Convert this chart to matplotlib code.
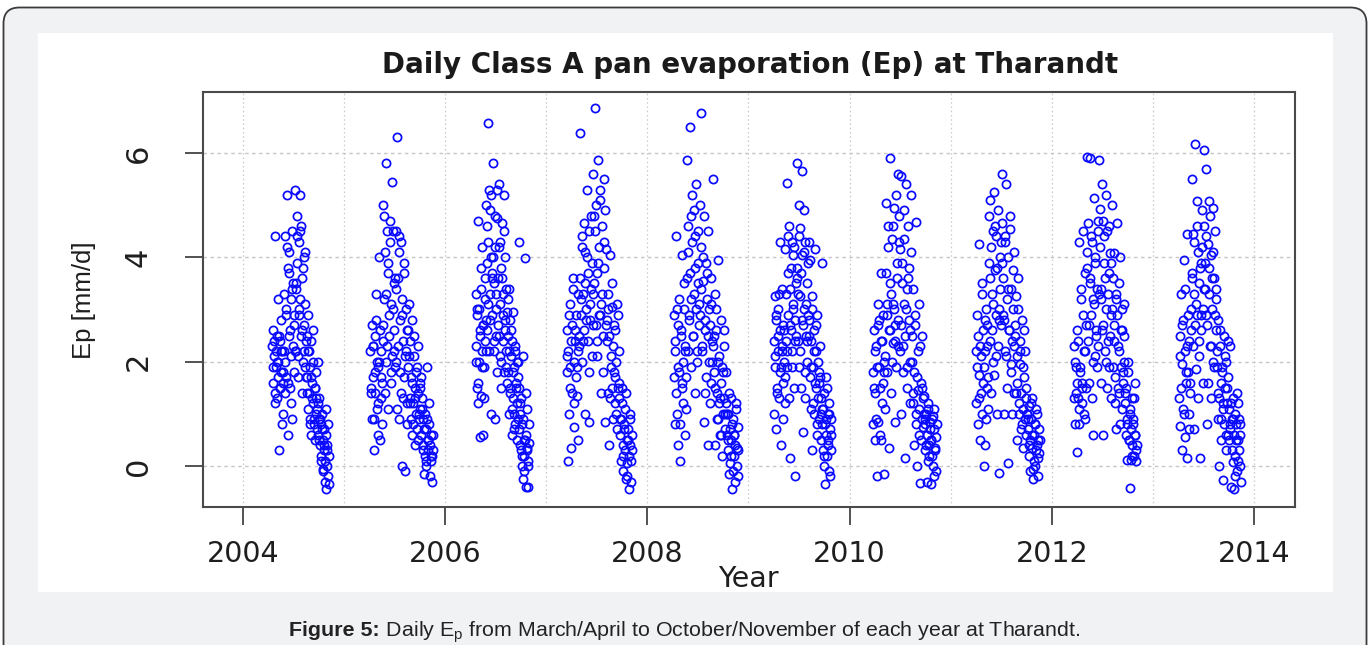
import numpy as np
import matplotlib
matplotlib.use("Agg")
import matplotlib.pyplot as plt
from matplotlib import font_manager as fm
from matplotlib.patches import FancyBboxPatch, Rectangle
from matplotlib.transforms import IdentityTransform

# ---------------- data ----------------
YEARS = [2004, 2005, 2006, 2007, 2008, 2009, 2010, 2011, 2012, 2013]
# first / last plotted day of each season, as fraction of the year
SEASON_START = [0.29, 0.26, 0.30, 0.20, 0.26, 0.25, 0.23, 0.25, 0.22, 0.26]
SEASON_END = [0.85, 0.88, 0.83, 0.85, 0.90, 0.82, 0.86, 0.88, 0.84, 0.87]

EP_2004 = [2.3, 1.6, 1.9, 2.6, 2.1, 2.4, 1.4, 4.4, 1.2, 2.2, 1.9, 2.0, 2.5, 1.3, 1.7, 3.2, 2.0, 2.5, 0.3, 1.5, 1.5, 2.4, 2.8, 2.2, 1.8, 2.2, 0.8, 1.0, 1.6, 1.8,
           3.3, 2.2, 2.0, 4.4, 1.4, 3.0, 2.9, 1.7, 4.2, 5.2, 3.8, 1.6, 0.6, 2.5, 3.7, 4.1, 1.5, 2.6, 2.1, 3.2, 1.2, 0.9, 4.5, 3.4, 2.3, 3.5, 2.9, 1.8, 2.7, 2.2,
           5.3, 3.5, 3.4, 2.2, 4.8, 4.4, 3.9, 1.7, 2.1, 4.3, 2.9, 3.0, 5.2, 3.2, 4.5, 2.5, 4.6, 2.6, 1.4, 3.6, 3.8, 2.0, 4.0, 2.2, 2.7, 3.1, 4.1, 1.9, 2.4, 1.7,
           2.5, 1.7, 1.4, 2.9, 1.1, 2.2, 2.2, 1.4, 0.9, 0.8, 1.9, 1.7, 2.4, 0.6, 1.3, 1.6, 1.2, 2.6, 2.0, 0.9, 0.8, 1.5, 0.5, 1.5, 1.3, 1.8, 1.0, 0.7, 1.1, 2.0,
           1.2, 0.6, 0.5, 0.9, 1.3, 0.9, 0.4, 0.2, 0.1, 0.8, 1.0, 0.7, -0.1, 0.5, -0.05, 0.3, 0.7, 0.4, -0.3, 0.1, 1.1, 0.6, -0.45, 0.3, 0.4, 0.0, 0.8, -0.2, 0.2, -0.35]
EP_2005 = [2.2, 1.4, 1.5, 2.7, 0.9, 2.3, 1.7, 2.3, 0.9, 0.3, 1.4, 1.8, 2.5, 3.3, 2.8, 1.1, 2.0, 1.2, 0.6, 1.9, 2.0, 4.0, 2.6, 0.5, 1.3, 2.2, 1.7, 0.8, 1.6, 2.4,
           5.0, 2.7, 3.2, 4.8, 1.4, 4.1, 3.3, 5.8, 2.0, 2.3, 4.5, 3.9, 1.1, 3.7, 2.5, 2.9, 4.3, 4.7, 1.6, 3.1, 1.8, 5.45, 2.1, 3.0, 4.5, 2.6, 2.2, 3.5, 1.9, 3.6,
           4.5, 2.0, 3.4, 6.3, 1.1, 2.3, 3.6, 4.1, 4.4, 0.9, 2.8, 1.8, 4.3, 1.4, 2.9, 0.0, 3.2, 1.3, 2.4, 3.7, 3.9, 1.7, -0.1, 2.1, 2.2, 3.0, 0.8, 1.2, 2.6, 2.6,
           1.9, 3.1, 2.1, 1.3, 2.4, 1.2, 0.9, 1.7, 1.6, 2.8, 0.6, 0.8, 1.2, 2.1, 2.5, 1.5, 0.4, 1.3, 1.0, 1.8, 1.9, 0.7, 2.3, 0.5, 1.4, 0.9, 1.0, 1.6, 1.1, 1.5,
           1.7, 0.6, 1.1, 1.3, 0.9, 0.3, 0.4, -0.15, 0.7, 1.0, 0.2, 0.0, 0.7, 0.1, 0.9, 1.9, 0.5, 0.5, 0.3, 0.8, 1.2, -0.2, 0.4, 0.2, 0.1, 0.6, -0.3, 0.2, 0.3, 0.6]
EP_2006 = [2.3, 3.3, 2.0, 1.5, 2.9, 3.0, 4.7, 1.2, 1.6, 2.0, 3.0, 2.5, 0.55, 2.6, 3.8, 1.35, 3.4, 1.9, 2.2, 4.2, 2.7, 0.6, 2.7, 1.3, 1.9, 3.6, 3.2, 2.4, 2.8, 2.2,
           5.0, 3.9, 4.6, 2.6, 4.3, 3.1, 6.57, 2.2, 5.3, 4.9, 3.3, 2.8, 1.0, 5.2, 4.0, 3.7, 2.9, 3.6, 5.8, 4.0, 2.4, 2.2, 3.5, 4.8, 0.9, 4.2, 3.3, 3.0, 2.5, 1.8,
           5.3, 4.75, 2.7, 3.6, 2.5, 4.2, 5.4, 4.3, 3.1, 2.1, 3.8, 2.0, 1.5, 4.65, 3.6, 3.3, 2.9, 2.4, 5.2, 1.8, 4.5, 4.0, 2.6, 2.8, 3.4, 2.2, 1.9, 2.95, 1.6, 3.2,
           2.5, 1.8, 2.2, 3.4, 1.0, 1.4, 2.8, 1.5, 2.6, 2.1, 0.6, 1.1, 2.4, 1.3, 1.8, 2.95, 1.0, 0.7, 1.9, 0.8, 2.3, 2.2, 1.6, 1.5, 0.5, 1.2, 2.0, 2.0, 1.7, 0.9,
           4.3, 1.5, 0.7, 0.4, 1.0, 1.2, 0.3, 1.3, 0.2, 0.0, 0.8, 0.9, -0.25, 2.1, -0.1, 0.5, 0.2, 0.5, 3.98, 0.6, 1.4, -0.4, 0.35, 0.3, 1.1, 0.1, 0.0, -0.4, 0.45, 0.8]
EP_2007 = [1.8, 2.6, 2.1, 0.1, 2.2, 2.9, 1.0, 3.1, 1.5, 1.9, 0.35, 2.4, 2.7, 1.4, 3.4, 3.6, 2.0, 1.2, 0.75, 2.4, 2.6, 1.7, 2.9, 1.9, 1.35, 3.3, 0.5, 2.2, 2.5, 2.3,
           3.6, 6.38, 3.2, 2.9, 4.2, 4.4, 2.0, 3.3, 2.4, 4.65, 2.6, 3.5, 1.0, 4.1, 2.8, 3.0, 5.3, 4.0, 2.4, 3.7, 1.8, 0.85, 4.5, 3.1, 2.8, 3.4, 4.8, 2.1, 3.9, 2.7,
           5.6, 3.3, 3.5, 4.8, 6.86, 4.5, 2.7, 5.0, 2.4, 3.7, 2.1, 3.9, 5.86, 4.2, 2.9, 2.9, 5.3, 5.1, 3.1, 1.4, 3.3, 4.6, 2.5, 1.8, 5.5, 3.8, 4.3, 0.85, 4.9, 2.7,
           4.15, 2.8, 2.4, 1.4, 3.3, 3.0, 0.4, 2.5, 1.3, 4.05, 1.9, 2.1, 3.05, 1.5, 3.5, 2.3, 0.9, 1.8, 2.7, 1.7, 2.6, 1.2, 2.0, 1.0, 3.1, 0.7, 2.9, 1.5, 2.2, 1.6,
           1.3, 0.6, 0.9, 0.9, 0.1, 1.2, 1.5, 0.4, 0.2, -0.1, 0.8, 0.7, 0.3, 1.1, 1.4, -0.25, 0.5, -0.2, 0.05, 0.7, 0.5, -0.45, 0.2, 0.9, 1.0, 0.4, 0.1, -0.3, 0.6, 0.3]
EP_2008 = [1.7, 2.9, 2.4, 0.8, 2.2, 1.4, 4.4, 1.0, 3.0, 2.7, 0.4, 1.9, 1.8, 3.2, 0.8, 0.1, 2.5, 2.6, 1.5, 4.05, 1.6, 2.0, 1.2, 3.5, 3.0, 0.6, 2.2, 2.3, 1.7, 1.1,
           5.86, 3.6, 4.1, 2.2, 4.6, 2.9, 2.8, 6.5, 3.7, 3.2, 1.9, 4.8, 5.2, 4.3, 2.5, 2.5, 4.9, 3.3, 3.8, 1.4, 4.4, 5.4, 3.0, 2.0, 2.2, 4.5, 3.9, 3.5, 2.7, 3.1,
           5.0, 2.9, 3.4, 6.76, 4.2, 2.3, 2.2, 3.55, 4.0, 0.85, 4.8, 2.8, 2.6, 1.4, 1.7, 3.9, 3.2, 3.7, 0.4, 4.5, 2.5, 2.0, 3.0, 1.2, 2.7, 1.6, 3.1, 3.6, 2.4, 2.0,
           5.5, 2.3, 2.5, 1.8, 3.3, 1.5, 0.4, 2.6, 3.0, 1.4, 0.9, 0.9, 3.95, 2.0, 2.1, 1.2, 0.6, 1.3, 2.8, 1.6, 0.6, 0.2, 1.9, 1.8, 1.0, 2.3, 2.6, 1.3, 0.7, 1.0,
           1.8, 1.2, 1.0, 0.6, 0.3, 0.5, 1.0, -0.15, 1.4, 0.7, 0.05, 0.2, 1.3, 0.5, 0.8, -0.45, 0.9, -0.1, 0.2, 0.6, 0.6, -0.3, 0.4, 1.2, 1.1, 0.0, 0.35, 0.75, 0.3, -0.2]
EP_2009 = [2.4, 1.0, 2.1, 3.25, 1.9, 2.9, 0.7, 2.8, 1.4, 1.5, 2.2, 2.5, 3.0, 1.3, 3.3, 2.6, 4.3, 1.8, 1.9, 0.4, 2.2, 2.3, 3.4, 0.9, 1.6, 2.7, 2.6, 2.0, 1.2, 1.7,
           4.15, 2.4, 3.3, 5.42, 1.9, 2.2, 3.7, 2.9, 4.4, 4.6, 1.3, 2.7, 3.4, 0.15, 3.8, 2.6, 4.3, 1.9, 2.2, 3.1, 3.0, 4.05, 1.5, 4.2, 2.8, -0.2, 2.4, 3.5, 2.5, 3.6,
           5.8, 3.8, 3.3, 2.4, 5.0, 4.4, 1.9, 4.56, 2.2, 3.25, 1.5, 3.7, 5.66, 4.05, 2.8, 2.7, 0.65, 4.1, 4.9, 3.0, 1.8, 1.3, 4.3, 3.1, 2.5, 3.5, 2.4, 2.0, 2.9, 3.9,
           4.3, 2.8, 2.5, 1.7, 3.95, 1.9, 1.1, 2.4, 3.0, 3.25, 0.3, 1.2, 1.9, 2.6, 2.2, 1.0, 4.15, 1.6, 1.5, 2.2, 2.7, 0.6, 2.9, 0.8, 1.3, 2.0, 1.8, 0.9, 1.6, 2.3,
           1.7, 1.0, 1.3, 0.5, 3.9, 0.8, 1.1, 0.3, 1.1, 1.4, 0.0, 0.2, 0.8, -0.35, 0.9, 1.7, 0.6, 1.5, 0.2, 1.0, 0.5, 0.4, 1.2, 1.0, -0.1, 0.7, -0.2, 0.9, 0.3, 0.6]
EP_2010 = [1.8, 0.8, 1.5, 2.6, 1.4, 2.2, 0.5, 2.3, 0.9, -0.2, 1.9, 2.7, 3.1, 0.85, 1.9, 2.8, 1.5, 0.6, 3.7, 0.5, 2.4, 2.4, 1.2, 1.6, 2.9, -0.15, 2.0, 1.8, 2.1, 1.1,
           3.7, 5.05, 3.1, 2.9, 1.8, 4.2, 4.6, 0.35, 2.6, 2.6, 5.9, 3.5, 3.3, 1.4, 2.0, 4.35, 2.35, 4.6, 3.1, 4.95, 3.0, 0.85, 2.7, 2.4, 5.2, 1.9, 3.9, 3.6, 2.3, 2.8,
           5.6, 4.8, 4.3, 2.2, 4.15, 2.7, 1.0, 5.55, 3.5, 3.9, 1.8, 2.3, 4.35, 3.1, 4.9, 0.15, 2.5, 3.0, 5.4, 3.4, 1.9, 1.5, 4.6, 3.6, 2.8, 3.8, 2.6, 2.0, 1.2, 4.1,
           5.2, 2.5, 2.0, 1.2, 3.4, 1.4, 0.4, 1.8, 2.7, 2.9, 1.0, 0.8, 4.68, 0.0, 1.7, 1.45, 2.2, 1.1, 0.6, 3.1, 2.3, -0.33, 1.6, 0.5, 0.9, 2.5, 1.5, 1.3, 0.75, 1.0,
           1.35, 0.8, 0.9, 0.3, 1.0, 0.4, -0.3, 0.6, 1.1, 1.2, 0.1, 0.2, 0.4, 0.85, 0.7, -0.35, 0.5, 0.5, 0.2, 0.9, 0.95, 0.0, 0.7, -0.2, 1.1, 0.35, 0.3, -0.1, 0.55, 0.8]
EP_2011 = [2.2, 1.2, 1.9, 2.9, 0.8, 2.5, 4.25, 1.75, 1.3, 2.3, 0.5, 2.1, 1.4, 3.3, 3.5, 1.0, 2.6, 1.6, 0.0, 1.9, 2.8, 2.2, 0.4, 0.9, 3.0, 1.5, 2.3, 2.7, 1.1, 1.7,
           4.8, 3.9, 3.6, 2.4, 5.1, 4.2, 1.4, 3.3, 2.6, 4.5, 2.0, 3.1, 5.25, 1.75, 4.6, 3.75, 4.4, 2.1, 2.9, 1.0, 3.8, 4.9, 2.3, 2.8, 3.0, -0.13, 3.4, 4.0, 2.7, 4.3,
           5.6, 4.65, 3.9, 2.9, 3.6, 2.8, 1.0, 4.3, 4.4, 2.2, 5.4, 2.1, 3.2, 1.5, 3.4, 4.0, 0.05, 2.6, 2.6, 4.55, 4.8, 1.95, 3.4, 1.8, 1.0, 2.4, 3.0, 3.75, 1.4, 2.3,
           4.1, 2.7, 2.5, 1.4, 3.25, 1.6, 0.5, 2.1, 3.0, 3.6, 1.0, 1.2, 1.95, 2.4, 2.2, 0.7, 1.4, 0.8, 2.8, 1.1, 1.9, 0.35, 1.7, 2.6, 2.2, 0.9, 1.3, 1.5, 0.6, 1.0,
           1.0, 0.7, 0.9, 1.15, 0.2, 0.4, 0.5, -0.1, 1.2, 0.9, 0.35, 0.6, 1.3, -0.25, -0.05, 0.6, 0.1, 0.8, 0.8, 0.0, 0.3, 1.1, 0.4, 1.0, -0.2, 0.5, 0.15, 0.25, 0.7, 0.5]
EP_2012 = [1.3, 2.3, 2.0, 0.8, 1.9, 1.4, 1.6, 0.27, 2.6, 2.4, 1.3, 1.1, 4.3, 0.8, 1.8, 1.9, 3.2, 3.4, 1.6, 1.2, 1.5, 2.9, 4.5, 2.2, 1.0, 2.2, 0.9, 3.7, 1.5, 2.7,
           5.92, 3.8, 4.1, 2.4, 4.65, 2.7, 1.6, 3.5, 3.6, 5.9, 2.9, 4.4, 1.3, 4.3, 2.0, 0.6, 3.2, 3.1, 5.13, 2.1, 3.9, 4.0, 2.6, 2.5, 1.9, 3.4, 4.7, 4.5, 2.3, 3.3,
           5.87, 4.92, 4.2, 3.4, 1.6, 3.2, 5.4, 2.6, 2.7, 4.7, 0.6, 4.4, 3.9, 2.2, 3.6, 5.2, 3.0, 2.0, 1.5, 4.5, 3.3, 2.4, 3.7, 4.6, 1.9, 4.08, 2.5, 2.9, 1.3, 3.9,
           5.0, 3.0, 3.6, 1.9, 4.08, 2.7, 2.4, 1.2, 1.7, 3.2, 0.7, 3.3, 2.9, 4.65, 2.3, 1.5, 2.2, 1.4, 3.5, 0.8, 4.0, 1.9, 2.6, 2.6, 1.1, 3.0, 1.8, 1.6, 2.0, 3.1,
           2.5, 1.2, 1.4, 0.6, 1.5, 0.9, 0.12, 0.8, 1.8, 2.0, 0.5, 0.5, 1.0, -0.43, 1.1, 0.7, 0.12, 0.2, 1.3, 0.4, 0.8, 0.9, 0.2, 1.3, 1.6, 0.6, 0.6, 0.1, 0.3, 0.4]
EP_2013 = [1.3, 2.5, 2.1, 0.76, 3.3, 1.5, 1.95, 0.3, 2.7, 2.8, 1.1, 1.0, 3.95, 0.55, 3.4, 2.2, 1.6, 1.8, 4.45, 0.15, 2.3, 1.8, 2.9, 0.7, 1.0, 2.4, 1.6, 1.4, 3.0, 2.6,
           5.5, 3.7, 3.6, 2.3, 4.45, 4.3, 0.7, 3.3, 2.7, 6.18, 1.85, 3.1, 5.08, 2.9, 4.6, 1.3, 4.1, 2.1, 2.4, 3.5, 3.8, 0.15, 3.9, 2.9, 2.6, 4.9, 4.2, 1.6, 3.0, 3.4,
           6.06, 4.6, 3.9, 3.4, 5.7, 4.4, 2.9, 0.8, 2.7, 4.25, 1.6, 3.3, 5.08, 3.8, 4.8, 2.3, 4.05, 2.3, 1.3, 3.0, 3.6, 4.94, 2.0, 4.1, 3.6, 1.9, 2.9, 4.5, 2.6, 3.4,
           3.2, 1.9, 2.2, 0.9, 2.8, 1.4, 1.3, 0.0, 2.6, 2.3, 1.6, 0.9, 0.5, 1.9, 1.8, -0.27, 1.1, 1.2, 2.5, 0.8, 2.1, 1.5, 0.3, 0.6, 2.0, 1.2, 1.5, 0.6, 1.7, 2.4,
           1.1, 0.5, 0.7, 2.3, 0.8, 1.2, -0.4, 0.9, 0.3, 0.08, 1.3, 0.9, -0.45, 0.6, -0.2, 1.0, 0.2, 0.5, 0.8, -0.1, 1.4, 0.5, 1.2, 0.1, 0.3, 0.9, 0.8, 0.0, 0.6, -0.3]

EP_BY_YEAR = [EP_2004, EP_2005, EP_2006, EP_2007, EP_2008,
              EP_2009, EP_2010, EP_2011, EP_2012, EP_2013]

X_TICKS = [2004, 2006, 2008, 2010, 2012, 2014]
X_GRID = [2004, 2005, 2006, 2007, 2008, 2009, 2010, 2011, 2012, 2013, 2014]
Y_TICKS = [0, 2, 4, 6]

TITLE = "Daily Class A pan evaporation (Ep) at Tharandt"
X_LABEL = "Year"
Y_LABEL = "Ep [mm/d]"
CAPTION_BOLD = "Figure 5:"
CAPTION_REST = r" Daily $\mathrm{E_p}$ from March/April to October/November of each year at Tharandt."

# ---------------- figure ----------------
plt.rcParams["font.family"] = ["DejaVu Sans"]
plt.rcParams["mathtext.fontset"] = "custom"
plt.rcParams["mathtext.rm"] = "Liberation Sans"
plt.rcParams["mathtext.bf"] = "Liberation Sans:bold"
plt.rcParams["mathtext.it"] = "Liberation Sans:italic"

installed = {f.name for f in fm.fontManager.ttflist}
if "Liberation Sans Narrow" in installed:
    ylab_family, ylab_size = "Liberation Sans Narrow", 21
else:
    ylab_family, ylab_size = "Liberation Sans", 18.5

W, H = 1370, 645
fig = plt.figure(figsize=(W / 100, H / 100), dpi=100)
fig.patch.set_facecolor("white")

# outer rounded card
card = FancyBboxPatch((3.5, -30), 1363, H - 7 + 30 - 0.5,
                      boxstyle="round,pad=0,rounding_size=16",
                      transform=IdentityTransform(), facecolor="#f1f2f4",
                      edgecolor="#3c3c3c", linewidth=1.3, zorder=0)
fig.add_artist(card)
# inner white panel
panel = Rectangle((38, H - 592), 1295, 559, transform=IdentityTransform(),
                  facecolor="white", edgecolor="none", zorder=0.5)
fig.add_artist(panel)

ax = fig.add_axes([203 / W, (H - 507) / H, 1092 / W, 415 / H])
ax.set_facecolor("white")
ax.set_zorder(2)

for yr, s, e, vals in zip(YEARS, SEASON_START, SEASON_END, EP_BY_YEAR):
    x = yr + np.linspace(s, e, len(vals))
    ax.plot(x, vals, linestyle="none", marker="o", markersize=5.9,
            markerfacecolor="none", markeredgecolor="#0a0aff",
            markeredgewidth=1.25, zorder=3)

ax.set_xlim(2003.604, 2014.406)
ax.set_ylim(-0.786, 7.169)

# grid
for gx in X_GRID:
    ax.axvline(gx, color="#c9c9c9", linewidth=0.9, linestyle=(0, (1.2, 2.2)), zorder=1)
for gy in Y_TICKS:
    ax.axhline(gy, color="#c6c6c6", linewidth=1.0, linestyle=(0, (2.5, 2.5)), zorder=1)

ax.set_xticks(X_TICKS)
ax.set_xticklabels([str(t) for t in X_TICKS])
ax.set_yticks(Y_TICKS)
ax.set_yticklabels([str(t) for t in Y_TICKS])

ax.tick_params(axis="both", direction="out", length=13, width=1.3, color="#444444")
ax.tick_params(axis="x", labelsize=20.5, pad=11, labelcolor="#1e1e1e")
ax.tick_params(axis="y", labelsize=22, pad=23, labelcolor="#1e1e1e")
for lab in ax.get_yticklabels():
    lab.set_rotation(90)
    lab.set_va("center")

for sp in ax.spines.values():
    sp.set_color("#4a4a4a")
    sp.set_linewidth(1.5)

fig.text(750 / W, 1 - 65 / H, TITLE, ha="center", va="center",
         fontsize=20, fontweight="bold", color="#1a1a1a")
fig.text(748 / W, 1 - 579 / H, X_LABEL, ha="center", va="center",
         fontsize=20.5, color="#1e1e1e")
fig.text(84 / W, 1 - 300 / H, Y_LABEL, ha="center", va="center", rotation=90,
         fontsize=ylab_size, color="#1e1e1e", family=[ylab_family, "DejaVu Sans"])

# caption: bold part + regular part, centred together
cap_y = 1 - 628 / H
t1 = fig.text(0, cap_y, CAPTION_BOLD, ha="left", va="center_baseline",
              fontsize=15.4, fontweight="bold", color="#222222",
              family=["Liberation Sans", "DejaVu Sans"])
t2 = fig.text(0, cap_y, CAPTION_REST, ha="left", va="center_baseline",
              fontsize=15.4, color="#222222", family=["Liberation Sans", "DejaVu Sans"])
renderer = fig.canvas.get_renderer()
w1 = t1.get_window_extent(renderer).width
w2 = t2.get_window_extent(renderer).width
x0 = 685 - (w1 + w2) / 2
t1.set_x(x0 / W)
t2.set_x((x0 + w1) / W)

fig.savefig("out.png", dpi=100, facecolor=fig.get_facecolor())
